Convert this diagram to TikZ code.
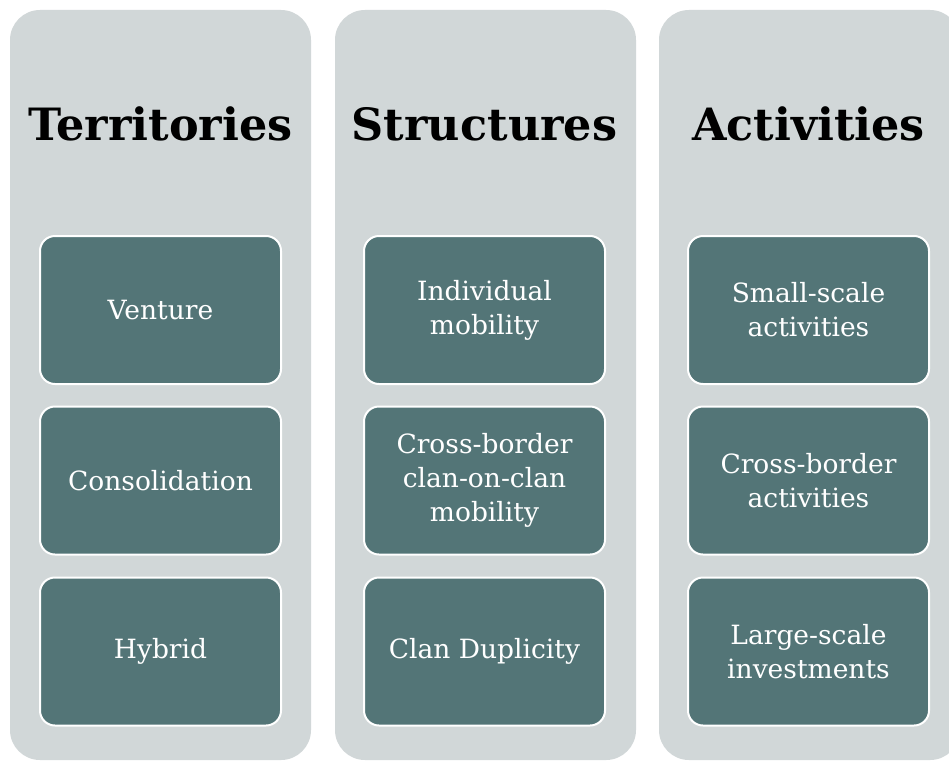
\documentclass[tikz,border=0pt]{standalone}
\usepackage{fontspec}
\setmainfont{DejaVu Serif}
\definecolor{panelgray}{RGB}{209,215,216}
\definecolor{boxteal}{RGB}{83,117,119}
\tikzset{
  panel/.style={fill=panelgray, draw=none, rounded corners=30pt, minimum width=301pt, minimum height=750pt, inner sep=0pt},
  item/.style={fill=boxteal, draw=white, line width=2pt, rounded corners=15pt, minimum width=241pt, minimum height=148pt, inner sep=0pt, text=white, align=center, font=\fontsize{26.5}{34}\selectfont},
  title/.style={anchor=base, font=\fontsize{44.5}{50}\selectfont\bfseries, inner sep=0pt}
}
\begin{document}
\begin{tikzpicture}[x=1pt,y=-1pt]
\useasboundingbox (0,0) rectangle (949,760);
\clip (0,0) rectangle (949,760);
\fill[white] (0,0) rectangle (949,760);
\node[panel] (p1) at (160.5,385) {};
\node[panel] (p2) at (485.5,385) {};
\node[panel] (p3) at (809.5,385) {};
\node[title] (t1) at (160.5,140) {Territories};
\node[title] (t2) at (484.5,140) {Structures};
\node[title] (t3) at (808.5,140) {Activities};
\node[item] (a1) at (160.5,310) {Venture};
\node[item] (a2) at (160.5,480.5) {Consolidation};
\node[item] (a3) at (160.5,651.5) {Hybrid};
\node[item] (b1) at (484.5,310) {Individual\\mobility};
\node[item] (b2) at (484.5,480.5) {Cross-border\\clan-on-clan\\mobility};
\node[item] (b3) at (484.5,651.5) {Clan Duplicity};
\node[item] (c1) at (808.5,310) {Small-scale\\activities};
\node[item] (c2) at (808.5,480.5) {Cross-border\\activities};
\node[item] (c3) at (808.5,651.5) {Large-scale\\investments};
\end{tikzpicture}
\end{document}
